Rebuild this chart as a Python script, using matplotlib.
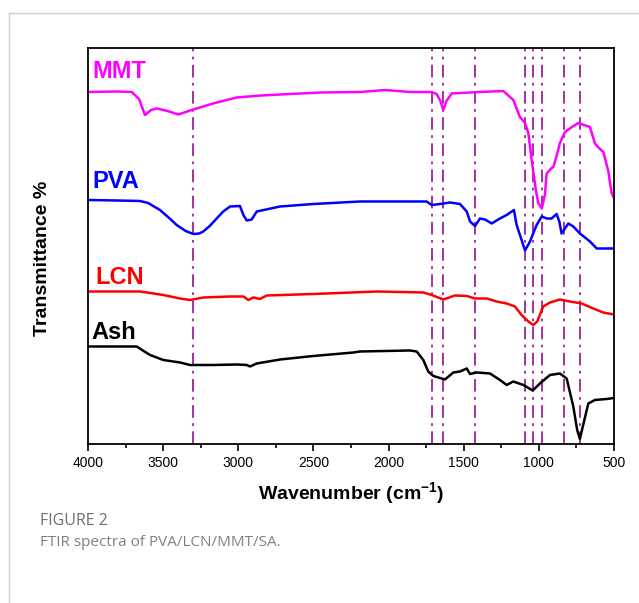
import matplotlib
matplotlib.use("Agg")
import matplotlib.pyplot as plt
from matplotlib.lines import Line2D
from matplotlib.ticker import MultipleLocator

plt.rcParams['font.family'] = ['Liberation Sans', 'DejaVu Sans']

# wavenumbers (cm-1) and transmittance (offset, arbitrary units)
mmt_wn = [4000, 3800, 3709, 3660, 3621, 3580, 3543, 3470, 3399, 3300, 3168, 3011, 2850, 2722,
          2450, 2190, 2024, 1858, 1713, 1680, 1655, 1636, 1615, 1580, 1400, 1237, 1170, 1126,
          1092, 1070, 1048, 1020, 1004, 981, 960, 948, 915, 904, 880, 859, 826, 780, 737, 700,
          660, 627, 600, 571, 538, 516, 500]
mmt_t = [352, 352.5, 352, 345, 329, 334, 335.5, 333, 329.5, 334.5, 340.5, 346.5, 348.5, 349.5,
         351.5, 352, 354, 352, 352, 350, 343, 334, 343, 350.5, 352, 353, 344, 327, 321, 311,
         284, 254, 241, 235.5, 249, 270.5, 276, 277, 289, 301.5, 312, 317, 321, 319, 317,
         300.5, 296, 292, 273, 251, 246]

pva_wn = [4000, 3800, 3654, 3600, 3521, 3460, 3410, 3350, 3299, 3260, 3233, 3190, 3144, 3100,
          3055, 2989, 2966, 2944, 2911, 2877, 2722, 2500, 2190, 1747, 1713, 1658, 1591, 1525,
          1480, 1458, 1425, 1392, 1358, 1314, 1259, 1214, 1166, 1148, 1115, 1092, 1059, 1015,
          981, 948, 915, 882, 864, 849, 804, 771, 727, 660, 615, 500]
pva_t = [244, 243.5, 243, 241, 234, 226, 219, 213, 210, 210.5, 212.5, 218, 225.5, 232.5,
         237.5, 238, 229, 223.5, 224.5, 232.5, 237.5, 240, 242.5, 242.5, 239, 240, 241.5, 240,
         232.5, 222.5, 218, 225.5, 224.5, 220.5, 225.5, 229, 234, 219, 204, 193.5, 202.5, 219,
         227.5, 225.5, 225.5, 230, 222.5, 210.5, 220.5, 217.5, 210.5, 202.5, 195.5, 195.5]

lcn_wn = [4000, 3654, 3499, 3388, 3321, 3233, 3055, 2966, 2933, 2900, 2856, 2811, 2500, 2076,
          1769, 1713, 1636, 1558, 1480, 1425, 1347, 1281, 1214, 1159, 1115, 1070, 1037, 1011,
          971, 926, 860, 793, 715, 638, 571, 500]
lcn_t = [152.5, 152.5, 149, 145.5, 144, 146.5, 147.5, 147.5, 144, 146.5, 145, 148.5, 150,
         152.5, 151.5, 149, 144.5, 148.5, 148, 145.5, 145.5, 142.5, 140.5, 137.5, 129, 122.5,
         119, 122.5, 137.5, 141.5, 144.5, 142.5, 140.5, 135.5, 131.5, 129.5]

ash_wn = [4000, 3676, 3630, 3587, 3499, 3388, 3321, 3166, 3011, 2944, 2922, 2877, 2722, 2500,
          2234, 2190, 1858, 1813, 1769, 1736, 1702, 1625, 1569, 1525, 1480, 1458, 1414, 1325,
          1259, 1214, 1170, 1103, 1041, 993, 926, 860, 815, 771, 745, 727, 710, 671, 627, 549,
          500]
ash_t = [97.5, 97.5, 93, 89, 84, 81.5, 79, 79, 79.5, 79, 77.5, 80.5, 84.5, 88, 91.5, 92.5,
         93.5, 92.5, 84, 72.5, 68, 64.5, 71.5, 72.5, 75.5, 70, 71.5, 70.5, 64, 59, 62.5, 59,
         53.5, 60.5, 69, 70.5, 65.5, 37.5, 14, 5, 16, 40.5, 44, 45, 46]

peaks = [3300, 1710, 1640, 1425, 1090, 1040, 980, 830, 725]

labels = ["MMT", "PVA", "LCN", "Ash"]
label_x = [3973, 3973, 3953, 3980]
label_y = [372, 262, 166, 111]
colors = ["#ff00ff", "#0000ff", "#ff0000", "#000000"]

fig = plt.figure(figsize=(6.39, 6.03), dpi=100)
ax = fig.add_axes([0.1377, 0.2637, 0.8232, 0.6567])

for wn in peaks:
    ax.axvline(wn, color="#a0209a", lw=1.3, ls=(0, (7, 3, 1.5, 3)), zorder=1)

series = [(mmt_wn, mmt_t), (pva_wn, pva_t), (lcn_wn, lcn_t), (ash_wn, ash_t)]
for (wn, t), c in zip(series, colors):
    ax.plot(wn, t, color=c, lw=1.8, zorder=2)

for name, x, y, c in zip(labels, label_x, label_y, colors):
    ax.text(x, y, name, color=c, fontsize=17, fontweight="bold", va="center", ha="left")

ax.set_xlim(4000, 500)
ax.set_ylim(0, 396)
ax.set_yticks([])
ax.xaxis.set_major_locator(MultipleLocator(500))
ax.xaxis.set_minor_locator(MultipleLocator(250))
ax.tick_params(axis="x", which="major", length=5, width=1.2, labelsize=10, pad=4)
ax.tick_params(axis="x", which="minor", length=3, width=1.2)
for s in ax.spines.values():
    s.set_linewidth(1.3)

ax.set_xlabel("Wavenumber (cm$^{\\mathregular{-1}}$)", fontsize=14, fontweight="bold", labelpad=7)
fig.text(0.066, 0.572, "Transmittance %", rotation=90, fontsize=14, fontweight="bold",
         ha="center", va="center")

# card border and caption
fig.add_artist(Line2D([9 / 639, 9 / 639], [0, 1 - 13 / 603], transform=fig.transFigure,
                      color="#cccccc", lw=1))
fig.add_artist(Line2D([9 / 639, 1], [1 - 13 / 603, 1 - 13 / 603], transform=fig.transFigure,
                      color="#cccccc", lw=1))
fig.text(40 / 639, 1 - 521 / 603, "FIGURE 2", fontsize=11.5, color="#6e6e6e",
         family=["Open Sans", "DejaVu Sans"], va="center", ha="left")
fig.text(40 / 639, 1 - 542 / 603, "FTIR spectra of PVA/LCN/MMT/SA.", fontsize=11,
         color="#808080", family=["Open Sans", "DejaVu Sans"], va="center", ha="left")

fig.savefig("out.png", dpi=100)
